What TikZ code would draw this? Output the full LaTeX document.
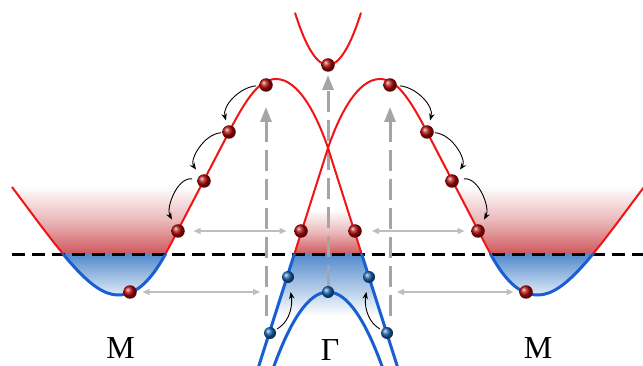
\documentclass[tikz,border=0pt]{standalone}
\usepackage{fontspec}
\setmainfont{Liberation Serif}
\usetikzlibrary{arrows.meta}
\definecolor{bandred}{RGB}{240,20,20}
\definecolor{bandblue}{RGB}{25,95,210}
\definecolor{dotred}{RGB}{175,8,8}
\definecolor{dotblue}{RGB}{25,100,175}
\definecolor{fillred}{RGB}{205,85,90}
\definecolor{fillblue}{RGB}{85,140,205}
\definecolor{arrowgray}{RGB}{165,165,165}
\definecolor{hgraycol}{RGB}{190,190,190}
\tikzset{
  reddot/.style={circle, inner sep=0pt, minimum size=13.5pt, shading=ball, ball color=dotred},
  bluedot/.style={circle, inner sep=0pt, minimum size=12pt, shading=ball, ball color=dotblue},
  redband/.style={draw=bandred, line width=2pt},
  blueband/.style={draw=bandblue, line width=3pt},
  fermi/.style={black, line width=3pt, dash pattern=on 13pt off 7pt},
  vgray/.style={arrowgray, line width=3pt, dash pattern=on 21pt off 8pt, -{Triangle[length=15pt,width=11pt]}},
  hgray/.style={hgraycol, line width=1.3pt, {Triangle[length=7pt,width=6pt]}-{Triangle[length=7pt,width=6pt]}},
  hop/.style={black, line width=0.9pt, -{Stealth[length=7pt,width=5.5pt]}},
  lab/.style={font=\fontsize{32}{32}\selectfont, inner sep=0pt, anchor=base}
}
\newcommand{\bandcurve}{(12,187) .. controls (60,251) and (90,295) .. (118,295) .. controls (138,295) and (152,278) .. (165,255) -- (229,132) .. controls (247,97) and (260,79) .. (276,79) .. controls (298,79) and (316,113) .. (328,148) -- (408,400)}
\newcommand{\pocketclip}{(12,187) .. controls (60,251) and (90,295) .. (118,295) .. controls (138,295) and (152,278) .. (165,255) -- (229,132) -- (12,132) -- cycle}
\begin{document}
\begin{tikzpicture}[x=1pt, y=-1pt]
\useasboundingbox (0,0) rectangle (643,366);
\clip (0,0) rectangle (643,366);
\fill[white] (0,0) rectangle (643,366);

% shadings: M pockets
\foreach \s/\m in {0pt/1, 656pt/-1}{
  \begin{scope}[xshift=\s, xscale=\m]
    \clip \pocketclip;
    \shade[top color=white, bottom color=fillred, middle color=fillred!42] (0,186) rectangle (260,255);
    \shade[top color=fillblue, bottom color=fillblue!12] (0,255) rectangle (260,298);
  \end{scope}
}
% shading at Gamma
\begin{scope}
  \clip (328,148) -- (408,400) -- (248,400) -- cycle;
  \shade[top color=white, bottom color=fillred, middle color=fillred!42] (240,210) rectangle (420,255);
  \shade[top color=fillblue, bottom color=white] (240,255) rectangle (420,316);
\end{scope}

% named points for the gray arrows
\coordinate (t0) at (328,65);
\coordinate (m1) at (130,292);
\coordinate (a1) at (178,231);
\coordinate (a4) at (266,85);
\coordinate (g1) at (301,231);
\coordinate (g2) at (355,231);
\coordinate (c4) at (390,85);
\coordinate (c1) at (478,231);
\coordinate (m2) at (526,292);
\coordinate (b0) at (328,292);
\coordinate (v1) at (266,316);
\coordinate (v2) at (390,316);
\coordinate (e1) at (260,292);
\coordinate (e2) at (397,292);

% gray arrows
\draw[vgray, shorten >=22pt] (v1) -- (a4);
\draw[vgray, shorten >=22pt] (v2) -- (c4);
\draw[vgray, shorten <=6pt, shorten >=10pt] (b0) -- (t0);
\draw[hgray, shorten <=15.5pt, shorten >=14.5pt] (a1) -- (g1);
\draw[hgray, shorten <=17pt, shorten >=13.5pt] (g2) -- (c1);
\draw[hgray, shorten <=12.5pt] (m1) -- (e1);
\draw[hgray, shorten >=12.5pt] (e2) -- (m2);

% Fermi level
\coordinate (fl) at (12,255);
\coordinate (fr) at (643,255);
\draw[fermi] (fl) -- (fr);

% bands
\foreach \s/\m in {0pt/1, 656pt/-1}{
  \begin{scope}[xshift=\s, xscale=\m]
    \begin{scope}
      \clip (-100,0) rectangle (800,255);
      \draw[redband] \bandcurve;
    \end{scope}
    \begin{scope}
      \clip (-100,255) rectangle (800,400);
      \draw[blueband] \bandcurve;
    \end{scope}
  \end{scope}
}
\draw[blueband] plot[domain=-64:64, samples=61] ({328+\x},{292+0.0254*\x*\x});
\draw[redband] plot[domain=-33:33, samples=41] ({328+\x},{65-0.048*\x*\x});

% electron dots
\node[reddot] (T0) at (t0) {};
\node[reddot] (M1) at (m1) {};
\node[reddot] (A1) at (a1) {};
\node[reddot] (A2) at (204,181) {};
\node[reddot] (A3) at (229,132) {};
\node[reddot] (A4) at (a4) {};
\node[reddot] (G1) at (g1) {};
\node[reddot] (G2) at (g2) {};
\node[reddot] (C4) at (c4) {};
\node[reddot] (C3) at (427,132) {};
\node[reddot] (C2) at (452,181) {};
\node[reddot] (C1) at (c1) {};
\node[reddot] (M2) at (m2) {};
\node[bluedot] (B0) at (b0) {};
\node[bluedot] (B1) at (288,277) {};
\node[bluedot] (B2) at (369,277) {};
\node[bluedot] (B3) at (270,333) {};
\node[bluedot] (B4) at (387,333) {};

% hopping arrows
\draw[hop, shorten <=3pt, shorten >=5pt] (A4) to[out=185, in=105] (A3);
\draw[hop, shorten <=1pt, shorten >=7pt] (A3) to[out=185, in=125] (A2);
\draw[hop, shorten <=5pt, shorten >=6pt] (A2) to[out=170, in=118] (A1);
\draw[hop, shorten <=3pt, shorten >=5pt] (C4) to[out=-5, in=75] (C3);
\draw[hop, shorten <=1pt, shorten >=7pt] (C3) to[out=-5, in=55] (C2);
\draw[hop, shorten <=5pt, shorten >=6pt] (C2) to[out=10, in=62] (C1);
\draw[hop, shorten <=2pt, shorten >=9pt] (B3) to[out=30, in=-80] (B1);
\draw[hop, shorten <=2pt, shorten >=9pt] (B4) to[out=150, in=-100] (B2);

% labels
\node[lab] (lm1) at (120.5,359) {M};
\node[lab] (lg) at (330,360) {Γ};
\node[lab] (lm2) at (538,359) {M};
\end{tikzpicture}
\end{document}
